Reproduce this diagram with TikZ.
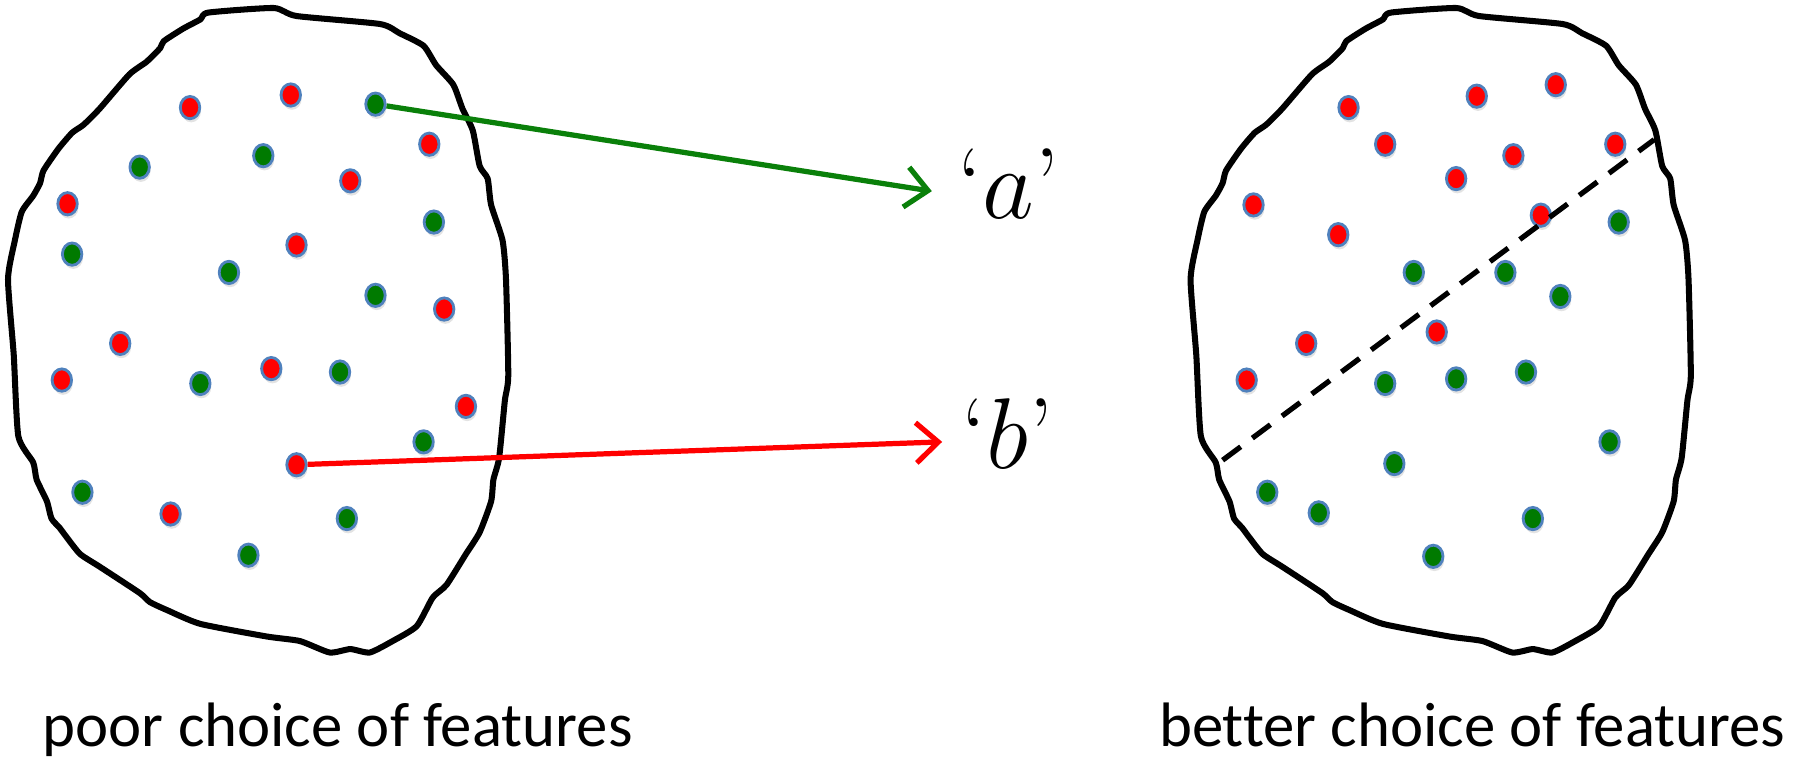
\RequirePackage{fix-cm}
\documentclass[tikz,border=0pt]{standalone}
\usepackage{fontspec}
\newfontfamily\capfont[Ligatures=NoCommon]{Carlito}
\usepackage{tikz}
\usetikzlibrary{arrows.meta,positioning,shadows,shapes.geometric}
\definecolor{dotred}{RGB}{255,0,0}
\definecolor{dotgreen}{RGB}{0,122,0}
\definecolor{dotrim}{RGB}{79,129,189}
\definecolor{argreen}{RGB}{10,128,10}
\newcommand{\blobshape}[1]{%
  \draw[blob, shift={(#1,0)}] plot[smooth cycle, tension=0.35] coordinates {
    (182,11) (239,7) (259,14) (332,21) (349,29) (370,40) (381,57) (396,74)
    (404,95) (413,114) (419,145) (426,156) (429,179) (439,210) (442,244)
    (444,328) (441,350) (436,400) (431,419) (429,438) (419,465) (407,484)
    (390,511) (378,522) (364,547) (343,560) (323,570) (306,567) (288,570)
    (262,560) (233,556) (175,545) (146,533) (131,526) (122,518) (87,495)
    (70,484) (58,469) (52,461) (45,453) (41,438) (32,419) (29,404) (16,381)
    (12,310) (7,244) (13,210) (19,185) (29,171) (35,160) (38,149) (51,130)
    (63,116) (73,109) (87,95) (113,65) (128,54) (140,42) (143,36) (160,25)
    (175,17)};}

\begin{document}
\begin{tikzpicture}[
  x=0.1mm, y=-0.1mm,
  blob/.style={line width=1.5pt, line join=round},
  dot/.style={ellipse, inner sep=0pt, minimum width=1.7mm, minimum height=1.95mm,
    draw=dotrim, line width=0.7pt,
    drop shadow={shadow xshift=0.3pt, shadow yshift=-0.9pt, opacity=0.22}},
  rdot/.style={dot, fill=dotred},
  gdot/.style={dot, fill=dotgreen},
  ar/.style={-{Straight Barb[length=5.5pt, width=10pt, line width=1.3pt]}, line width=1.3pt},
  lab/.style={font=\fontsize{25}{29}\selectfont, anchor=base west, inner sep=0pt},
  caption/.style={font=\capfont\fontsize{15.6}{18}\selectfont, anchor=base}
]
  \useasboundingbox (0,0) rectangle (1568,667);

  % poor choice
  \blobshape{0}
  \foreach \x/\y in {166/94, 254/83, 375/126, 306/158, 59/178, 259/214, 388/270,
      105/300, 54/332, 237/322, 407/355, 149/449}
    \node[rdot] at (\x,\y) {};
  \foreach \x/\y in {122/146, 230/136, 379/194, 63/222, 200/238, 328/258,
      175/335, 297/325, 370/386, 72/430, 303/453, 217/485}
    \node[gdot] at (\x,\y) {};
  \node[gdot] (ga) at (328,91) {};
  \node[rdot] (rb) at (259,406) {};

  \coordinate (ta) at (814,167);
  \coordinate (tb) at (823,386);
  \node[lab] (la) at (836,191) {`$a$'};
  \node[lab] (lb) at (839,409) {`$b$'};
  \draw[ar, argreen] (ga) -- (ta);
  \draw[ar, dotred] (rb) -- (tb);

  % better choice
  \blobshape{1033}
  \foreach \x/\y in {1178/94, 1290/84, 1359/74, 1210/126, 1322/136, 1272/156,
      1411/126, 1095/179, 1169/205, 1346/188, 1255/290, 1141/300, 1089/332}
    \node[rdot] at (\x,\y) {};
  \foreach \x/\y in {1414/194, 1235/238, 1315/238, 1363/259, 1210/335, 1272/331,
      1333/325, 1406/386, 1218/405, 1107/430, 1152/448, 1339/453, 1252/486}
    \node[gdot] at (\x,\y) {};
  \coordinate (s1) at (1068,402);
  \coordinate (s2) at (1445,122);
  \draw[line width=1.3pt, dash pattern=on 5.6pt off 3.6pt] (s1) -- (s2);

  \node[caption] (c1) at (295,652) {poor choice of features};
  \node[caption] (c2) at (1286,652) {better choice of features};
\end{tikzpicture}
\end{document}
